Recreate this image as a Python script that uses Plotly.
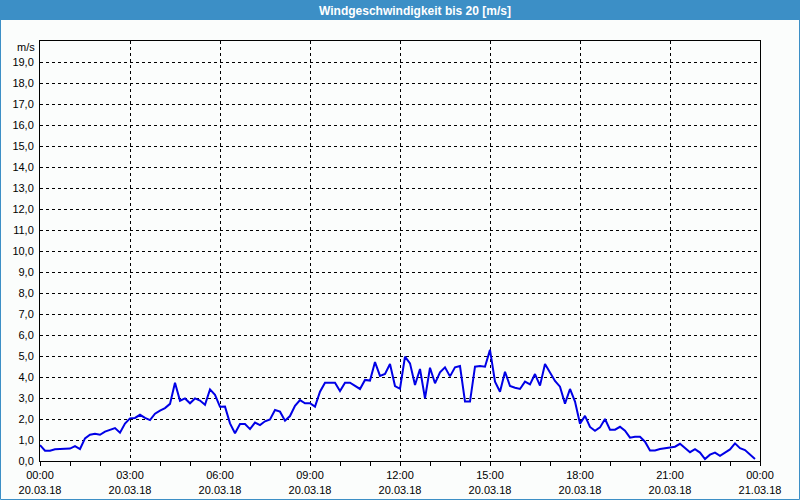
import pandas as pd
import plotly.graph_objects as go

# --- data -------------------------------------------------------------
start_time = "2018-03-20 00:00"
step = "10min"
speed = [
    0.76, 0.49, 0.49, 0.56, 0.57, 0.58, 0.59, 0.71, 0.57, 1.08,
    1.25, 1.30, 1.25, 1.40, 1.48, 1.57, 1.35, 1.78, 2.03, 2.05,
    2.20, 2.05, 1.95, 2.25, 2.40, 2.52, 2.72, 3.73, 2.87, 2.98,
    2.75, 2.98, 2.88, 2.68, 3.41, 3.15, 2.58, 2.59, 1.79, 1.32,
    1.76, 1.76, 1.52, 1.83, 1.71, 1.89, 1.98, 2.43, 2.35, 1.92,
    2.14, 2.63, 2.90, 2.75, 2.75, 2.59, 3.30, 3.73, 3.73, 3.73,
    3.33, 3.73, 3.73, 3.60, 3.43, 3.86, 3.83, 4.71, 4.05, 4.15,
    4.62, 3.57, 3.44, 4.97, 4.65, 3.62, 4.38, 2.98, 4.44, 3.70,
    4.22, 4.46, 4.03, 4.46, 4.52, 2.83, 2.83, 4.49, 4.52, 4.49,
    5.29, 3.78, 3.30, 4.25, 3.57, 3.49, 3.43, 3.78, 3.65, 4.14,
    3.59, 4.62, 4.22, 3.81, 3.54, 2.73, 3.43, 2.83, 1.77, 2.15,
    1.62, 1.44, 1.60, 2.00, 1.49, 1.49, 1.63, 1.44, 1.11, 1.15,
    1.15, 0.92, 0.50, 0.50, 0.57, 0.61, 0.65, 0.68, 0.82, 0.60,
    0.42, 0.56, 0.40, 0.09, 0.30, 0.40, 0.25, 0.40, 0.55, 0.84,
    0.61, 0.52, 0.33, 0.10,
]
x_tick_times = ["2018-03-20 00:00", "2018-03-20 03:00", "2018-03-20 06:00",
                "2018-03-20 09:00", "2018-03-20 12:00", "2018-03-20 15:00",
                "2018-03-20 18:00", "2018-03-20 21:00", "2018-03-21 00:00"]
x_tick_labels = ["00:00<br>20.03.18", "03:00<br>20.03.18", "06:00<br>20.03.18",
                 "09:00<br>20.03.18", "12:00<br>20.03.18", "15:00<br>20.03.18",
                 "18:00<br>20.03.18", "21:00<br>20.03.18", "00:00<br>21.03.18"]
y_tick_values = list(range(0, 20))
y_tick_labels = [f"{v},0" for v in y_tick_values]
title_text = "Windgeschwindigkeit bis 20 [m/s]"
unit_text = "m/s"

times = pd.date_range(start_time, periods=len(speed), freq=step)

# --- layout geometry -------------------------------------------------
W, H = 800, 500
ML, MR, MT, MB = 40, 40, 41, 39
PW, PH = W - ML - MR, H - MT - MB

def px_x(p):
    return (p - ML) / PW

def px_y(p):
    return (H - MB - p) / PH

BG = "#fbfdfc"
BAR = "#3c8fc6"
FONT = "Liberation Sans"

fig = go.Figure()
fig.add_trace(go.Scatter(
    x=times, y=speed, mode="lines",
    line=dict(color="#0000e6", width=2),
    hoverinfo="x+y", showlegend=False,
))

fig.update_layout(
    width=W, height=H,
    margin=dict(l=ML, r=MR, t=MT, b=MB, pad=0, autoexpand=False),
    paper_bgcolor=BG, plot_bgcolor=BG,
    font=dict(family=FONT, size=11, color="#000000"),
    showlegend=False,
    xaxis=dict(
        type="date", automargin=False,
        range=[x_tick_times[0], x_tick_times[-1]],
        tickmode="array", tickvals=x_tick_times, ticktext=x_tick_labels,
        ticks="outside", ticklen=4, tickcolor="#000000", tickwidth=1,
        showgrid=True, gridcolor="#000000", gridwidth=1, griddash="3px,3px",
        showline=True, linecolor="#000000", linewidth=1, mirror=True,
        zeroline=False,
        minor=dict(tickmode="linear", tick0=x_tick_times[0], dtick=3600000,
                   ticks="outside", ticklen=4, tickcolor="#000000",
                   showgrid=False),
        tickfont=dict(family=FONT, size=11, color="#000000"),
        fixedrange=True,
    ),
    yaxis=dict(
        automargin=False,
        range=[0, 20],
        tickmode="array", tickvals=y_tick_values, ticktext=y_tick_labels,
        ticks="", ticklabelstandoff=3,
        showgrid=True, gridcolor="#000000", gridwidth=1, griddash="3px,3px",
        showline=True, linecolor="#000000", linewidth=1, mirror=True,
        zeroline=False,
        tickfont=dict(family=FONT, size=11, color="#000000"),
        fixedrange=True,
    ),
    shapes=[
        # title bar
        dict(type="rect", xref="paper", yref="paper", layer="below",
             x0=px_x(0), x1=px_x(W), y0=px_y(20), y1=px_y(0),
             fillcolor=BAR, line=dict(width=0)),
        # outer border
        dict(type="rect", xref="paper", yref="paper", layer="above",
             x0=px_x(0.5), x1=px_x(W - 0.5), y0=px_y(H - 0.5), y1=px_y(0.5),
             fillcolor="rgba(0,0,0,0)", line=dict(color=BAR, width=1)),
    ],
    annotations=[
        dict(text=f"<b>{title_text}</b>", xref="paper", yref="paper",
             x=px_x(415), y=px_y(10.5), xanchor="center", yanchor="middle",
             showarrow=False, font=dict(family=FONT, size=12, color="#ffffff")),
        dict(text=unit_text, xref="paper", yref="paper",
             x=px_x(37), y=px_y(47), xanchor="right", yanchor="middle",
             showarrow=False, font=dict(family=FONT, size=11, color="#000000")),
    ],
)

fig.write_html("out.html")
